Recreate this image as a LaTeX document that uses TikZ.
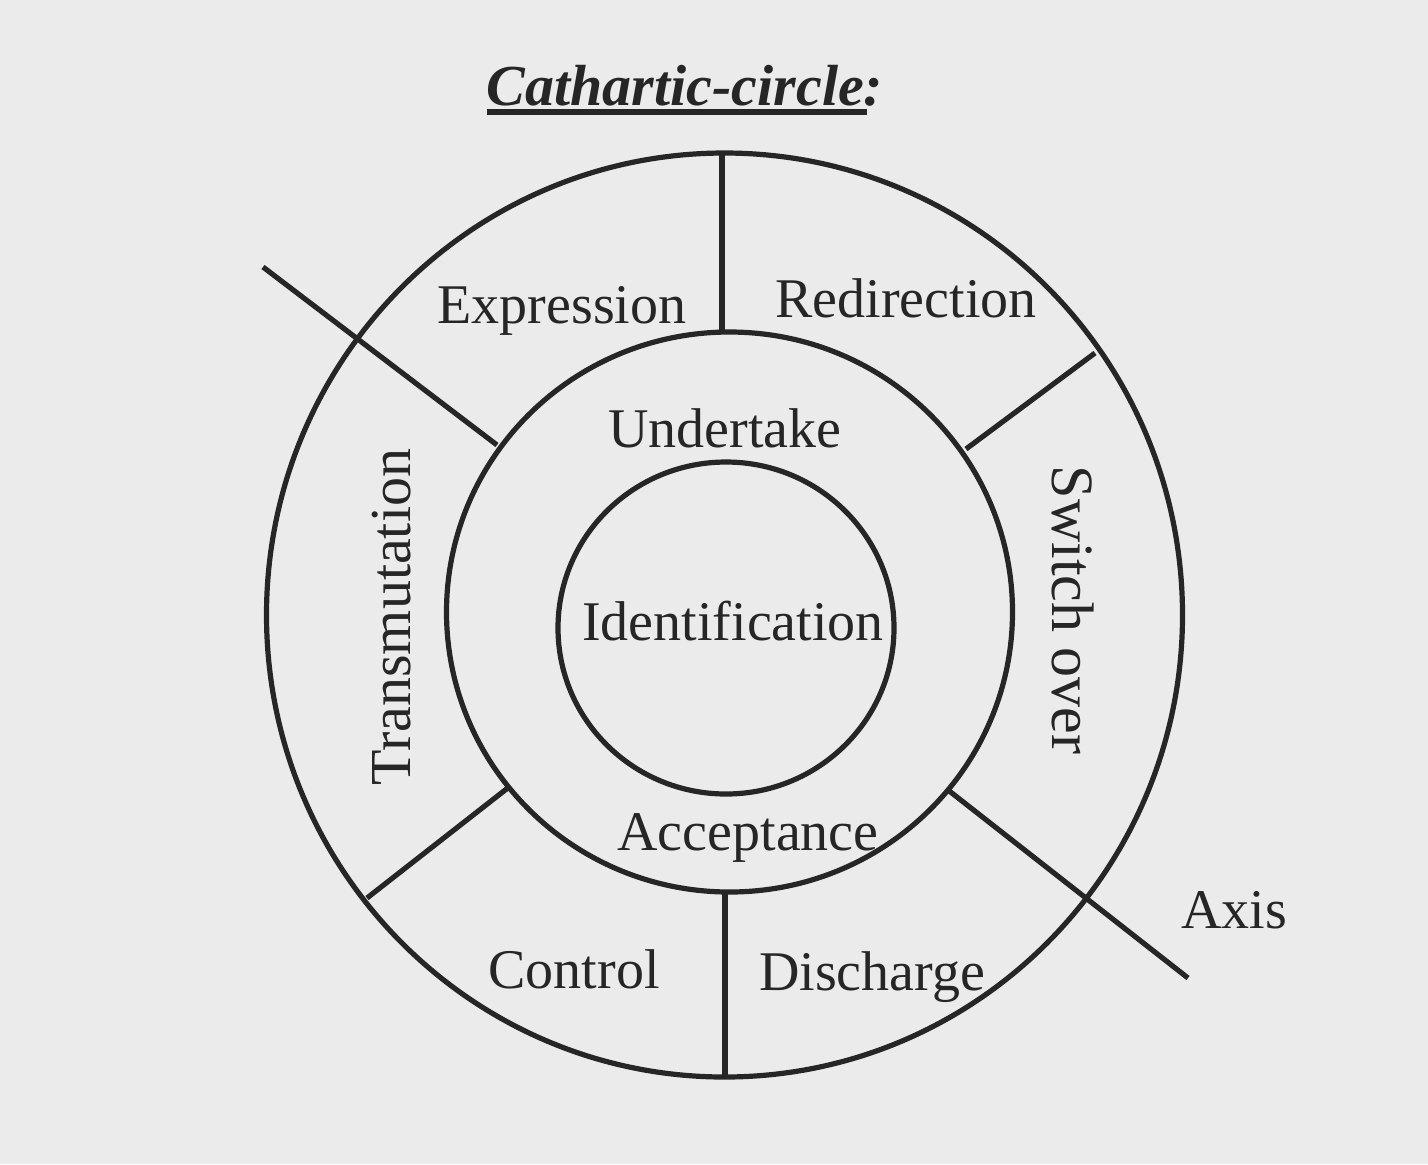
\documentclass[tikz,border=0pt]{standalone}
\usepackage{fontspec}
\setmainfont{Liberation Serif}
\definecolor{cebebeb}{RGB}{235,235,235}
\definecolor{c262626}{RGB}{38,38,38}

\begin{document}
\begin{tikzpicture}[y=0.50pt, x=0.50pt, yscale=-1, inner sep=0pt, outer sep=0pt,
  every node/.style={text=c262626, font=\fontsize{28}{30}\selectfont}]
  \path[fill=cebebeb] (0,0) rectangle (1428,1164);
  % title
  \path (685,105) node[anchor=base, font=\fontsize{29}{31}\selectfont\bfseries\itshape]
    (title) {Cathartic-circle:};
  \path[draw=c262626, line width=2.6pt] (487,112) -- (867,112);
  \begin{scope}[draw=c262626, line width=2.6pt]
    % rings
    \path[draw] (724.5,615) ellipse (458 and 462);
    \path[draw] (729.5,612) ellipse (283 and 280);
    \path[draw] (726.0,628) ellipse (168 and 166);
    % spokes
    \path[draw] (722,153) -- (722,332);
    \path[draw] (725,892) -- (725,1077);
    \path[draw] (1095,353) -- (966,449);
    \path[draw] (367,898) -- (509,787);
    % axis
    \path[draw] (263,267) -- (497,445);
    \path[draw] (948,790) -- (1188,978);
  \end{scope}
  % labels
  \path (562,323) node[anchor=base] (expression) {Expression};
  \path (906,317) node[anchor=base] (redirection) {Redirection};
  \path (725,447) node[anchor=base] (undertake) {Undertake};
  \path (733,640) node[anchor=base] (identification) {Identification};
  \path (748,850) node[anchor=base] (acceptance) {Acceptance};
  \path (574,988) node[anchor=base] (control) {Control};
  \path (872,990) node[anchor=base] (discharge) {Discharge};
  \path (1234,928) node[anchor=base] (axis) {Axis};
  \path (410,617) node[anchor=base, rotate=90, font=\fontsize{29}{31}\selectfont]
    (transmutation) {Transmutation};
  \path (1052,610) node[anchor=base, rotate=-90, font=\fontsize{30}{32}\selectfont]
    (switchover) {Switch over};
\end{tikzpicture}
\end{document}
